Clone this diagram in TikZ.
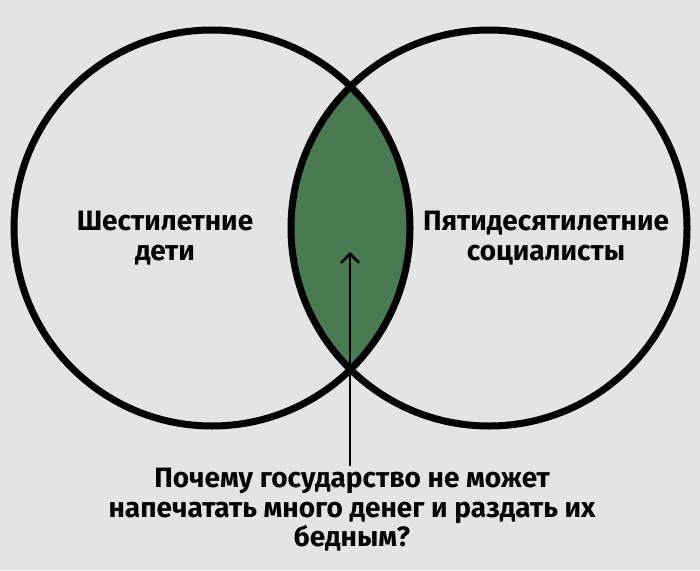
\documentclass[tikz,border=0pt]{standalone}
\usepackage{fontspec}
\setmainfont{Fira Sans}
\usetikzlibrary{arrows.meta}
\definecolor{bg}{HTML}{E4E4E4}
\definecolor{lens}{HTML}{4A7A52}
\begin{document}
\begin{tikzpicture}[x=1pt,y=-1pt,
  lbl/.style={font=\fontsize{28}{29.5}\selectfont\bfseries, align=center, text=black}]
\fill[bg] (0,0) rectangle (700,570);
\useasboundingbox (0,0) rectangle (700,570);
\coordinate (cl) at (212,228);
\coordinate (cr) at (489,228);
\begin{scope}
\clip (cl) circle (198);
\fill[lens] (cr) circle (198);
\end{scope}
\draw[line width=7] (cl) circle (198);
\draw[line width=7] (cr) circle (198);
\node[lbl] (a) at (165,238) {Шестилетние\\дети};
\node[lbl] (b) at (546,238) {Пятидесятилетние\\социалисты};
\node[lbl] (c) at (352,510) {Почему государство не может\\напечатать много денег и раздать их\\бедным?};
\coordinate (tip) at (350,252);
\draw[line width=2.5,-{Straight Barb[length=9,width=18]}] (350,466) -- (tip);
\end{tikzpicture}
\end{document}
